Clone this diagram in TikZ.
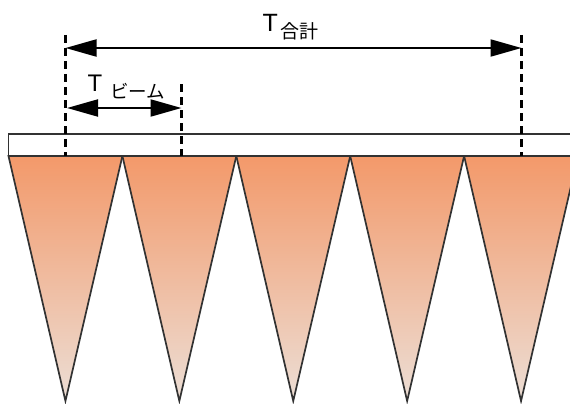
\documentclass[tikz,border=0pt]{standalone}
\usepackage{fontspec}
\setmainfont{Liberation Sans}
\newfontfamily\cjk{Noto Sans CJK JP}
\usetikzlibrary{arrows.meta}
\definecolor{beamtop}{RGB}{243, 153, 106}
\definecolor{beambottom}{RGB}{236, 222, 213}
\definecolor{edgegray}{RGB}{50, 50, 50}

\tikzset{
    dimline/.style={line width=2pt, {Triangle[length=31pt,width=17pt]}-{Triangle[length=31pt,width=17pt]}},
    guide/.style={line width=3pt, dash pattern=on 8pt off 5pt},
    beam/.style={draw=edgegray, line width=1.7pt, top color=beamtop, bottom color=beambottom}
}

\begin{document}
\begin{tikzpicture}[x=1pt, y=-1pt]
    \useasboundingbox (0,0) rectangle (570,404);

    % Flange plate
    \draw[edgegray, line width=1.7pt, fill=white] (8.5,156) -- (8.5,134) -- (575,134);
    \draw[edgegray, line width=1.7pt] (8.5,156) -- (575,156);

    % Beams
    \foreach \i in {0,...,4} {
        \pgfmathsetmacro{\xl}{8.5+113.9*\i}
        \shade[beam] (\xl,156) -- (\xl+113.9,156) -- (\xl+56.95,401) -- cycle;
    }

    % Guide lines
    \coordinate (sumL) at (65.5,35);
    \coordinate (sumR) at (521.5,35);
    \coordinate (beamR) at (181.5,84);
    \draw[guide] (sumL) -- (65.5,156);
    \draw[guide] (sumR) -- (521.5,156);
    \draw[guide] (beamR) -- (181.5,156);

    % Dimensions
    \coordinate (sumA) at (65.5,48);
    \coordinate (sumB) at (521.5,48);
    \coordinate (beamA) at (67,108);
    \coordinate (beamB) at (181.5,108);
    \draw[dimline] (sumA) -- (sumB);
    \draw[dimline] (beamA) -- (beamB);

    % Labels
    \node[anchor=base west, inner sep=0pt] (tsum) at (262.5,32)
        {\fontsize{25}{25}\selectfont T\hspace{3pt}\raisebox{-6pt}{\cjk\fontsize{19}{19}\selectfont 合計}};
    \node[anchor=base west, inner sep=0pt] (tbeam) at (87.5,91)
        {\fontsize{24}{24}\selectfont T\hspace{8pt}\raisebox{-7pt}{\cjk\fontsize{18.5}{18.5}\selectfont ビーム}};
\end{tikzpicture}
\end{document}
